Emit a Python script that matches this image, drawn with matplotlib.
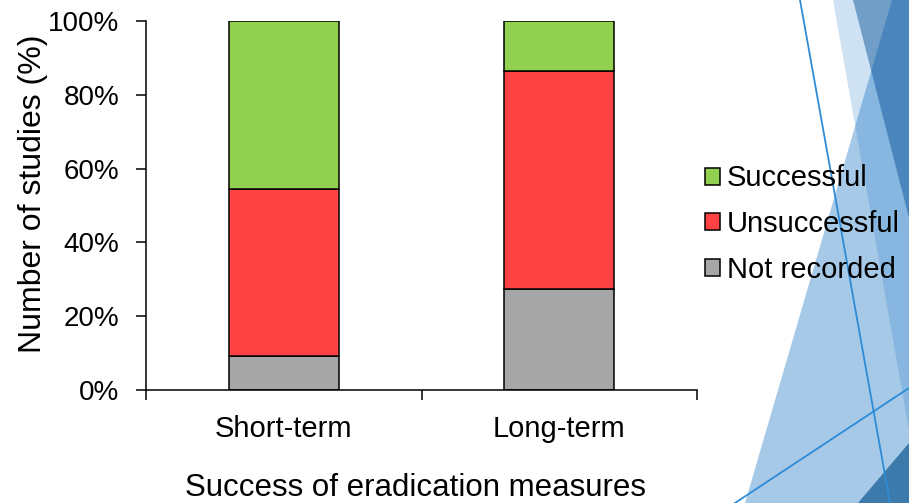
import matplotlib
matplotlib.use("Agg")
import matplotlib.pyplot as plt
from matplotlib.patches import Polygon, Patch
from matplotlib.ticker import FuncFormatter

plt.rcParams['font.family'] = ['Liberation Sans', 'DejaVu Sans']

categories = ['Short-term', 'Long-term']
not_recorded = [9.1, 27.3]
unsuccessful = [45.5, 59.1]
successful = [45.4, 13.6]
y_ticks = [0, 20, 40, 60, 80, 100]

colors = {'Successful': '#92D050', 'Unsuccessful': '#FF4343', 'Not recorded': '#A6A6A6'}

W, H = 909, 503
fig = plt.figure(figsize=(W / 100, H / 100), dpi=100)

# slide-theme decoration on the right, drawn in pixel space behind the chart
bg = fig.add_axes([0, 0, 1, 1], zorder=-1)
bg.set_xlim(0, W)
bg.set_ylim(H, 0)
bg.axis('off')
blue = '#0F6EC3'
bg.add_patch(Polygon([(892, 0), (W, 0), (W, H), (745, H)], closed=True, fc=blue, alpha=0.37, lw=0))
bg.add_patch(Polygon([(833, 0), (W, 0), (W, 430)], closed=True, fc=blue, alpha=0.2, lw=0))
bg.add_patch(Polygon([(853, 0), (W, 0), (W, 218)], closed=True, fc='#004B93', alpha=0.45, lw=0))
bg.add_patch(Polygon([(858, H), (W, 443), (W, H)], closed=True, fc='#3B7AAB', lw=0))
bg.plot([800, 890], [0, H], color='#2E8BD6', lw=1.3)
bg.plot([735, W], [H, 388], color='#2E8BD6', lw=1.3)

ax = fig.add_axes([146 / W, 1 - 390 / H, (697 - 146) / W, (390 - 21) / H])
ax.patch.set_alpha(0)

x = range(len(categories))
bottom2 = [a + b for a, b in zip(not_recorded, unsuccessful)]
ax.bar(x, not_recorded, width=0.4, color=colors['Not recorded'], edgecolor='black', linewidth=1.1)
ax.bar(x, unsuccessful, width=0.4, bottom=not_recorded, color=colors['Unsuccessful'], edgecolor='black', linewidth=1.1)
ax.bar(x, successful, width=0.4, bottom=bottom2, color=colors['Successful'], edgecolor='black', linewidth=1.1)

ax.set_xlim(-0.5, 1.5)
ax.set_ylim(0, 100)
ax.set_yticks(y_ticks)
ax.yaxis.set_major_formatter(FuncFormatter(lambda v, p: f"{int(v)}%"))

# category boundaries carry the tick marks, labels sit at the centres
ax.set_xticks([-0.5, 0.5, 1.5])
ax.set_xticklabels([])
ax.set_xticks([0, 1], minor=True)
ax.set_xticklabels(categories, minor=True)
ax.tick_params(axis='x', which='major', direction='out', length=7, width=1.1)
ax.tick_params(axis='x', which='minor', length=0, pad=18, labelsize=21)
ax.tick_params(axis='y', direction='out', length=7, width=1.1, pad=12, labelsize=20)

for side in ['top', 'right']:
    ax.spines[side].set_visible(False)
for side in ['left', 'bottom']:
    ax.spines[side].set_linewidth(1.1)

ax.set_xlabel('Success of eradication measures', fontsize=22.5, va='baseline')
ax.xaxis.set_label_coords(0.49, -(496 - 390) / (390 - 21))
ax.set_ylabel('Number of studies (%)', fontsize=23, va='center')
ax.yaxis.set_label_coords(-0.205, 0.532)

handles = [Patch(facecolor=colors[k], edgecolor='black', linewidth=1.1) for k in ['Successful', 'Unsuccessful', 'Not recorded']]
ax.legend(handles, ['Successful', 'Unsuccessful', 'Not recorded'], loc='center left',
          bbox_to_anchor=(705 / W, 1 - 224 / H), bbox_transform=fig.transFigure,
          frameon=False, fontsize=21, handlelength=0.51, handleheight=0.51,
          handletextpad=0.25, labelspacing=0.6, borderpad=0, borderaxespad=0)

fig.savefig('out.png', dpi=100)
